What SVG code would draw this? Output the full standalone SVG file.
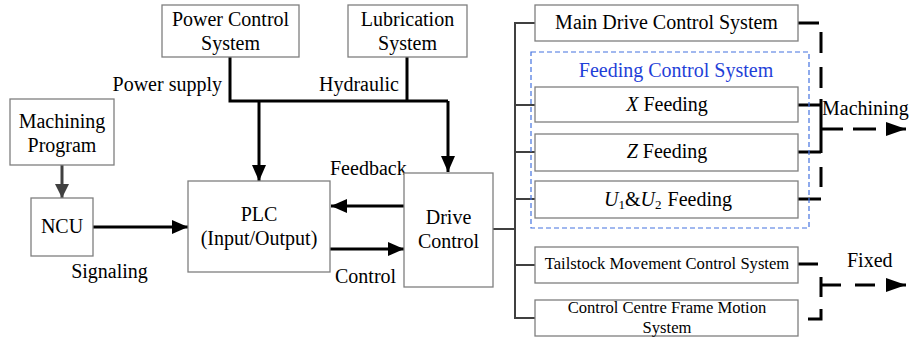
<svg xmlns="http://www.w3.org/2000/svg" width="911" height="341" viewBox="0 0 911 341">
<style>
.box{fill:#fff;stroke:#7f7f7f;stroke-width:1.3}
.t{font-size:20px;fill:#000}
.s{font-size:16.6px}
.m{text-anchor:middle}
.k{stroke:#000;stroke-width:3;fill:none}
.bus{stroke:#404040;stroke-width:2;fill:none}
.d1{stroke:#000;stroke-width:3;fill:none;stroke-dasharray:23 10}
.d2{stroke:#000;stroke-width:3;fill:none;stroke-dasharray:20 14}
</style>
<defs>
<marker id="ah" markerUnits="userSpaceOnUse" markerWidth="16" markerHeight="14" refX="16" refY="7" orient="auto">
<path d="M0,0 L16,7 L0,14 z" fill="#000"/>
</marker>
<marker id="ahg" markerUnits="userSpaceOnUse" markerWidth="14" markerHeight="14" refX="14" refY="7" orient="auto">
<path d="M0,0 L14,7 L0,14 z" fill="#404040"/>
</marker>
<marker id="ah2" markerUnits="userSpaceOnUse" markerWidth="20" markerHeight="14" refX="20" refY="7" orient="auto">
<path d="M0,0 L20,7 L0,14 z" fill="#000"/>
</marker>
</defs>
<rect width="911" height="341" fill="#fff"/>

<g id="connectors">
<path class="k" d="M230,57 V101 H448 M407,57 V101"/>
<path class="k" d="M259,101 V181" marker-end="url(#ah)"/>
<path class="k" d="M448,101 V172" marker-end="url(#ah)"/>
<path d="M62,165 V198" stroke="#404040" stroke-width="3" marker-end="url(#ahg)"/>
<path class="k" d="M93,227 H188" marker-end="url(#ah)"/>
<path class="k" d="M404,206 H331" marker-end="url(#ah)"/>
<path class="k" d="M330,249 H404" marker-end="url(#ah)"/>
<path class="bus" d="M493,229 H515 M515,22 V319 M515,23 H535 M515,105 H535 M515,152 H535 M515,199 H535 M515,265 H535 M515,318 H535"/>
<path class="k" d="M798,23 H819 M798,105 H821 M798,152 H821 M798,199 H821 M821,32 V53 M821,67 V88 M821,99 V153 M821,167 V187"/>
<path class="d1" d="M820,129 H906" marker-end="url(#ah2)"/>
<path class="k" d="M798,264 H818 M821,277 V297 M808,319 H821 V309"/>
<path class="d2" d="M821,285 H906" marker-end="url(#ah2)"/>
</g>

<g font-family="'Liberation Serif', 'Times New Roman', 'DejaVu Serif', serif">
<g id="power">
<rect class="box" x="162" y="5" width="137" height="52"/>
<text class="t m" x="230.5" y="26">Power Control</text>
<text class="t m" x="230.5" y="50">System</text>
</g>
<g id="lubrication">
<rect class="box" x="348" y="5" width="119" height="52"/>
<text class="t m" x="407.5" y="26">Lubrication</text>
<text class="t m" x="407.5" y="50">System</text>
</g>
<g id="labels">
<text class="t" x="222" y="91" text-anchor="end">Power supply</text>
<text class="t" x="319" y="91">Hydraulic</text>
<text class="t" x="330" y="175">Feedback</text>
<text class="t" x="335" y="283">Control</text>
<text class="t m" x="109.5" y="278">Signaling</text>
<text class="t" x="822" y="115">Machining</text>
<text class="t" x="847" y="267">Fixed</text>
</g>
<g id="program">
<rect class="box" x="10" y="99" width="104" height="66"/>
<text class="t m" x="62" y="128">Machining</text>
<text class="t m" x="62" y="152">Program</text>
</g>
<g id="ncu">
<rect class="box" x="31" y="198" width="62" height="58"/>
<text class="t m" x="62" y="233">NCU</text>
</g>
<g id="plc">
<rect class="box" x="188" y="181" width="142" height="91"/>
<text class="t m" x="259" y="221">PLC</text>
<text class="t m" x="259" y="245">(Input/Output)</text>
</g>
<g id="drive">
<rect class="box" x="404" y="173" width="89" height="114"/>
<text class="t m" x="448.5" y="224">Drive</text>
<text class="t m" x="448.5" y="248">Control</text>
</g>
<g id="main-drive">
<rect class="box" x="535" y="5" width="263" height="36"/>
<text class="t m" x="666.5" y="29">Main Drive Control System</text>
</g>
<g id="feeding-group">
<rect x="531" y="52" width="278" height="176" fill="none" stroke="#4472e0" stroke-width="1.2" stroke-dasharray="5 3"/>
<text class="t m" x="676" y="77" style="fill:#1f3fd8">Feeding Control System</text>
</g>
<g id="x-feeding">
<rect class="box" x="535" y="87" width="263" height="35"/>
<text class="t m" x="667" y="111"><tspan font-style="italic">X</tspan><tspan dx="5">Feeding</tspan></text>
</g>
<g id="z-feeding">
<rect class="box" x="535" y="134" width="263" height="37"/>
<text class="t m" x="667" y="158"><tspan font-style="italic">Z</tspan><tspan dx="5">Feeding</tspan></text>
</g>
<g id="u-feeding">
<rect class="box" x="535" y="181" width="263" height="37"/>
<text class="t m" x="668" y="206"><tspan font-style="italic">U</tspan><tspan font-size="13" dy="3">1</tspan><tspan dy="-3">&amp;</tspan><tspan font-style="italic">U</tspan><tspan font-size="13" dy="3">2</tspan><tspan dy="-3" dx="6">Feeding</tspan></text>
</g>
<g id="tailstock">
<rect class="box" x="535" y="247" width="263" height="36"/>
<text class="t s m" x="667" y="269">Tailstock Movement Control System</text>
</g>
<g id="centre-frame">
<rect class="box" x="535" y="300" width="263" height="36"/>
<text class="t s m" x="667" y="313">Control Centre Frame Motion</text>
<text class="t s m" x="667" y="333">System</text>
</g>
</g>
</svg>
